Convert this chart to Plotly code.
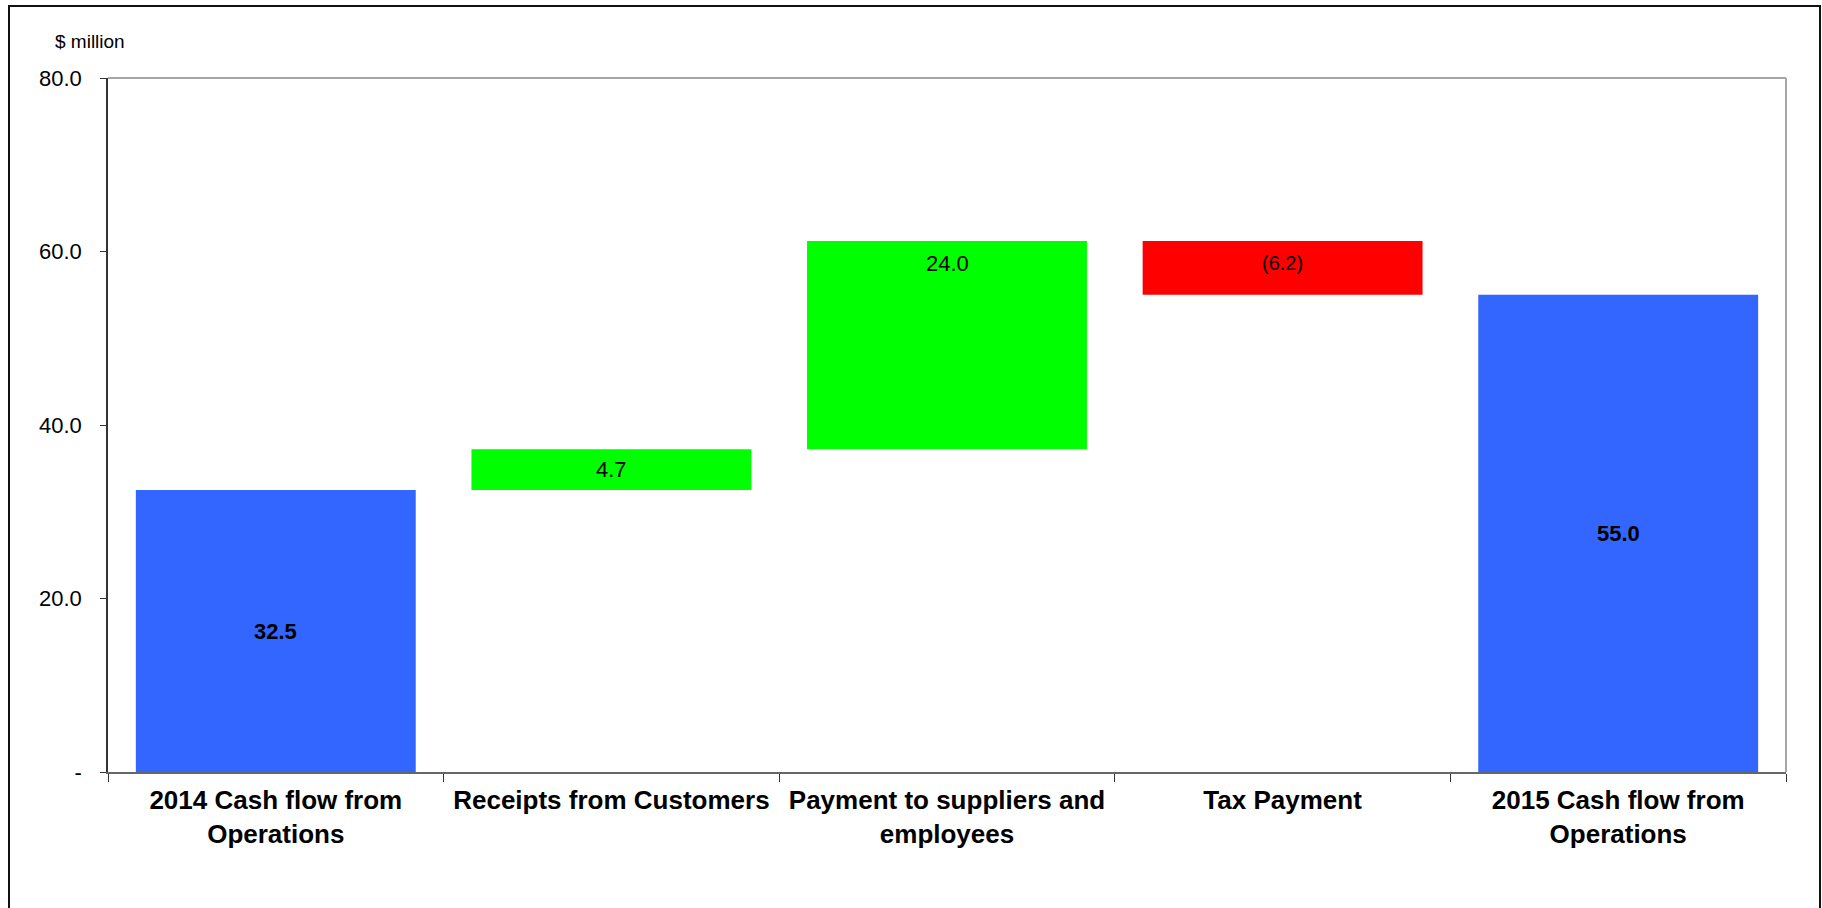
import plotly.graph_objects as go

# Cash flow bridge, $ million
categories = [
    "2014 Cash flow from<br>Operations",
    "Receipts from Customers",
    "Payment to suppliers and<br>employees",
    "Tax Payment",
    "2015 Cash flow from<br>Operations",
]
values = [32.5, 4.7, 24.0, -6.2, 55.0]
is_total = [True, False, False, False, True]
labels = ["32.5", "4.7", "24.0", "(6.2)", "55.0"]
y_tick_vals = [0, 20, 40, 60, 80]
y_tick_text = ["-", "20.0", "40.0", "60.0", "80.0"]

BLUE = "#3366FF"
GREEN = "#00FF00"
RED = "#FF0000"
FONT = "Liberation Sans, Arial, sans-serif"

# floating-bar geometry from the running total
bases, heights, colors = [], [], []
running = 0.0
for v, tot in zip(values, is_total):
    if tot:
        bases.append(0.0)
        heights.append(v)
        colors.append(BLUE)
        running = v
    else:
        lo = running if v >= 0 else running + v
        bases.append(lo)
        heights.append(abs(v))
        colors.append(GREEN if v >= 0 else RED)
        running += v

fig = go.Figure(
    go.Bar(
        x=categories,
        y=heights,
        base=bases,
        marker=dict(color=colors, line=dict(width=0)),
        hoverinfo="skip",
    )
)

# plot-area geometry in pixels
W, H = 1822, 908
L, R, T, B = 108, 1786, 78, 772
pw, ph = R - L, B - T


def px_x(x):
    return (x - L) / pw


def px_y(y):
    return (B - y) / ph


# value labels
annotations = []
for i, (b, h, lab, tot) in enumerate(zip(bases, heights, labels, is_total)):
    if i == 2:
        # tall step: label sits just under its top edge
        y, shift = b + h, -22
    elif i == 3:
        y, shift = b + h / 2, 5
    else:
        y, shift = b + h / 2, 0
    annotations.append(dict(
        x=categories[i], y=y, xref="x", yref="y", yshift=shift,
        text=f"<b>{lab}</b>" if tot else lab,
        showarrow=False,
        font=dict(family=FONT, size=22 if lab != "(6.2)" else 20, color="black"),
        xanchor="center", yanchor="middle",
    ))

annotations.append(dict(
    x=px_x(53), y=px_y(42), xref="paper", yref="paper", text="$ million",
    showarrow=False,
    font=dict(family=FONT, size=19, color="black"),
    xanchor="left", yanchor="middle",
))

shapes = [
    # outer frame
    dict(type="rect", xref="paper", yref="paper",
         x0=px_x(9), x1=px_x(1820), y0=px_y(1000), y1=px_y(6),
         line=dict(color="#111111", width=2), fillcolor="rgba(0,0,0,0)", layer="below"),
    # top and right edges of the plot area
    dict(type="line", xref="paper", yref="paper", x0=0, x1=1, y0=1, y1=1,
         line=dict(color="#A6A6A6", width=2)),
    dict(type="line", xref="paper", yref="paper", x0=1, x1=1, y0=0, y1=1,
         line=dict(color="#A6A6A6", width=2)),
]

fig.update_layout(
    width=W, height=H,
    margin=dict(l=L, r=W - R, t=T, b=H - B, pad=0),
    paper_bgcolor="white", plot_bgcolor="white",
    bargap=0.166,
    showlegend=False,
    annotations=annotations,
    shapes=shapes,
    font=dict(family=FONT, color="black"),
)

fig.update_xaxes(
    type="category",
    showline=True, linecolor="#666666", linewidth=2,
    ticks="outside", tickson="boundaries", ticklen=8, tickcolor="#333333", tickwidth=1,
    tickfont=dict(family=FONT, size=26, color="black", weight="bold"),
    showgrid=False, zeroline=False,
    ticklabelstandoff=4,
)

fig.update_yaxes(
    range=[0, 80],
    tickvals=y_tick_vals, ticktext=y_tick_text,
    showline=True, linecolor="#333333", linewidth=1.5,
    ticks="outside", ticklen=6, tickcolor="#333333", tickwidth=1,
    tickfont=dict(family=FONT, size=22, color="black"),
    showgrid=False, zeroline=False,
    ticklabelstandoff=14,
)

fig.write_html("out.html")
